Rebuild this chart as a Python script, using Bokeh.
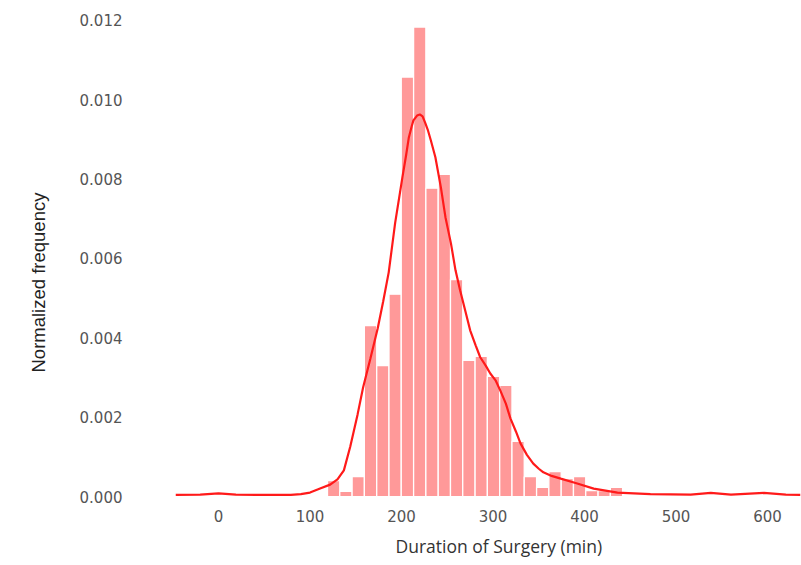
from bokeh.plotting import figure
from bokeh.models import Range1d, FixedTicker, PrintfTickFormatter, Title, ColumnDataSource
from bokeh.embed import file_html
from bokeh.resources import INLINE

# ---- data ----
bin_left = [119.1, 132.5, 146.0, 159.4, 172.9, 186.3, 199.7, 213.2, 226.6, 240.1, 253.5, 266.9,
            280.4, 293.8, 307.3, 320.7, 334.1, 347.6, 361.0, 374.5, 387.9, 401.3, 414.8, 428.2]
bin_right = [132.5, 146.0, 159.4, 172.9, 186.3, 199.7, 213.2, 226.6, 240.1, 253.5, 266.9, 280.4,
             293.8, 307.3, 320.7, 334.1, 347.6, 361.0, 374.5, 387.9, 401.3, 414.8, 428.2, 441.6]
density = [0.0004, 0.00013, 0.0005, 0.00431, 0.0033, 0.0051, 0.01057, 0.01183, 0.00777, 0.00812,
           0.00547, 0.00343, 0.00353, 0.00303, 0.0028, 0.00139, 0.0005, 0.00023, 0.00063, 0.00045,
           0.0005, 0.00015, 0.00015, 0.00023]

kde_x = [-47, -20, 0, 19, 46, 79, 90, 100, 111, 122, 130, 137, 144, 152, 158, 166, 174, 180, 186,
         193, 201, 205, 208, 211, 213, 217, 220, 223, 226, 229, 232, 237, 243, 248, 254, 259, 264,
         270, 275, 281, 286, 292, 297, 303, 308, 314, 319, 325, 330, 337, 344, 350, 355, 364, 374,
         392, 410, 436, 472, 516, 538, 560, 596, 620, 636]
kde_y = [0.00004, 0.00005, 0.00008, 0.00005, 0.00004, 0.00004, 0.00006, 0.0001, 0.0002, 0.0003,
         0.00043, 0.00066, 0.00126, 0.00207, 0.00275, 0.00348, 0.00424, 0.00492, 0.00565, 0.00689,
         0.00805, 0.0086, 0.00905, 0.00932, 0.00948, 0.00960, 0.00963, 0.00958, 0.00941, 0.00922,
         0.00898, 0.00855, 0.00779, 0.00704, 0.00638, 0.0057, 0.0052, 0.00465, 0.00419, 0.00381,
         0.00351, 0.0033, 0.0031, 0.00292, 0.00267, 0.00234, 0.00197, 0.00164, 0.00134, 0.00105,
         0.00083, 0.0007, 0.00061, 0.00052, 0.00045, 0.00033, 0.0002, 0.0001, 0.00006, 0.00005,
         0.00009, 0.00005, 0.00009, 0.00005, 0.00004]

x_ticks = [0, 100, 200, 300, 400, 500, 600]
y_ticks = [0.0, 0.002, 0.004, 0.006, 0.008, 0.010, 0.012]
x_title = "Duration of Surgery (min)"
y_title = "Normalized frequency"

p = figure(width=801, height=565, output_backend="svg", toolbar_location=None,
           x_range=Range1d(-47, 636), y_range=Range1d(-0.0001, 0.0124),
           min_border_left=175, min_border_right=1, min_border_top=4, min_border_bottom=65)
p.outline_line_color = None
p.xgrid.grid_line_color = None
p.ygrid.grid_line_color = None
p.background_fill_color = "white"
p.border_fill_color = "white"

bars = ColumnDataSource(dict(left=bin_left, right=bin_right, top=density, bottom=[0] * len(density)))
p.quad(left="left", right="right", top="top", bottom="bottom", source=bars,
       fill_color="#ff9999", line_color="white", line_width=1.3)
p.line(kde_x, kde_y, line_color="#ff1a1a", line_width=2.2)

for ax in (p.xaxis[0], p.yaxis[0]):
    ax.axis_line_color = None
    ax.major_tick_line_color = None
    ax.minor_tick_line_color = None
    ax.major_label_text_font = "DejaVu Sans"
    ax.major_label_text_font_size = "15px"
    ax.major_label_text_color = "#555555"

p.xaxis[0].ticker = FixedTicker(ticks=x_ticks)
p.yaxis[0].ticker = FixedTicker(ticks=y_ticks)
p.yaxis[0].formatter = PrintfTickFormatter(format="%.3f")
p.xaxis[0].major_label_standoff = 3
p.yaxis[0].major_label_standoff = 47

xt = Title(text=x_title, align="left", offset=220, standoff=14,
           text_font="Open Sans", text_font_size="17.5px", text_font_style="normal",
           text_color="#333333")
p.add_layout(xt, "below")
yt = Title(text=y_title, align="left", offset=128, standoff=52, vertical_align="top",
           text_font="Liberation Sans", text_font_size="18.5px", text_font_style="normal",
           text_color="#222222")
p.add_layout(yt, "left")

open("out.html", "w").write(file_html(p, INLINE))
